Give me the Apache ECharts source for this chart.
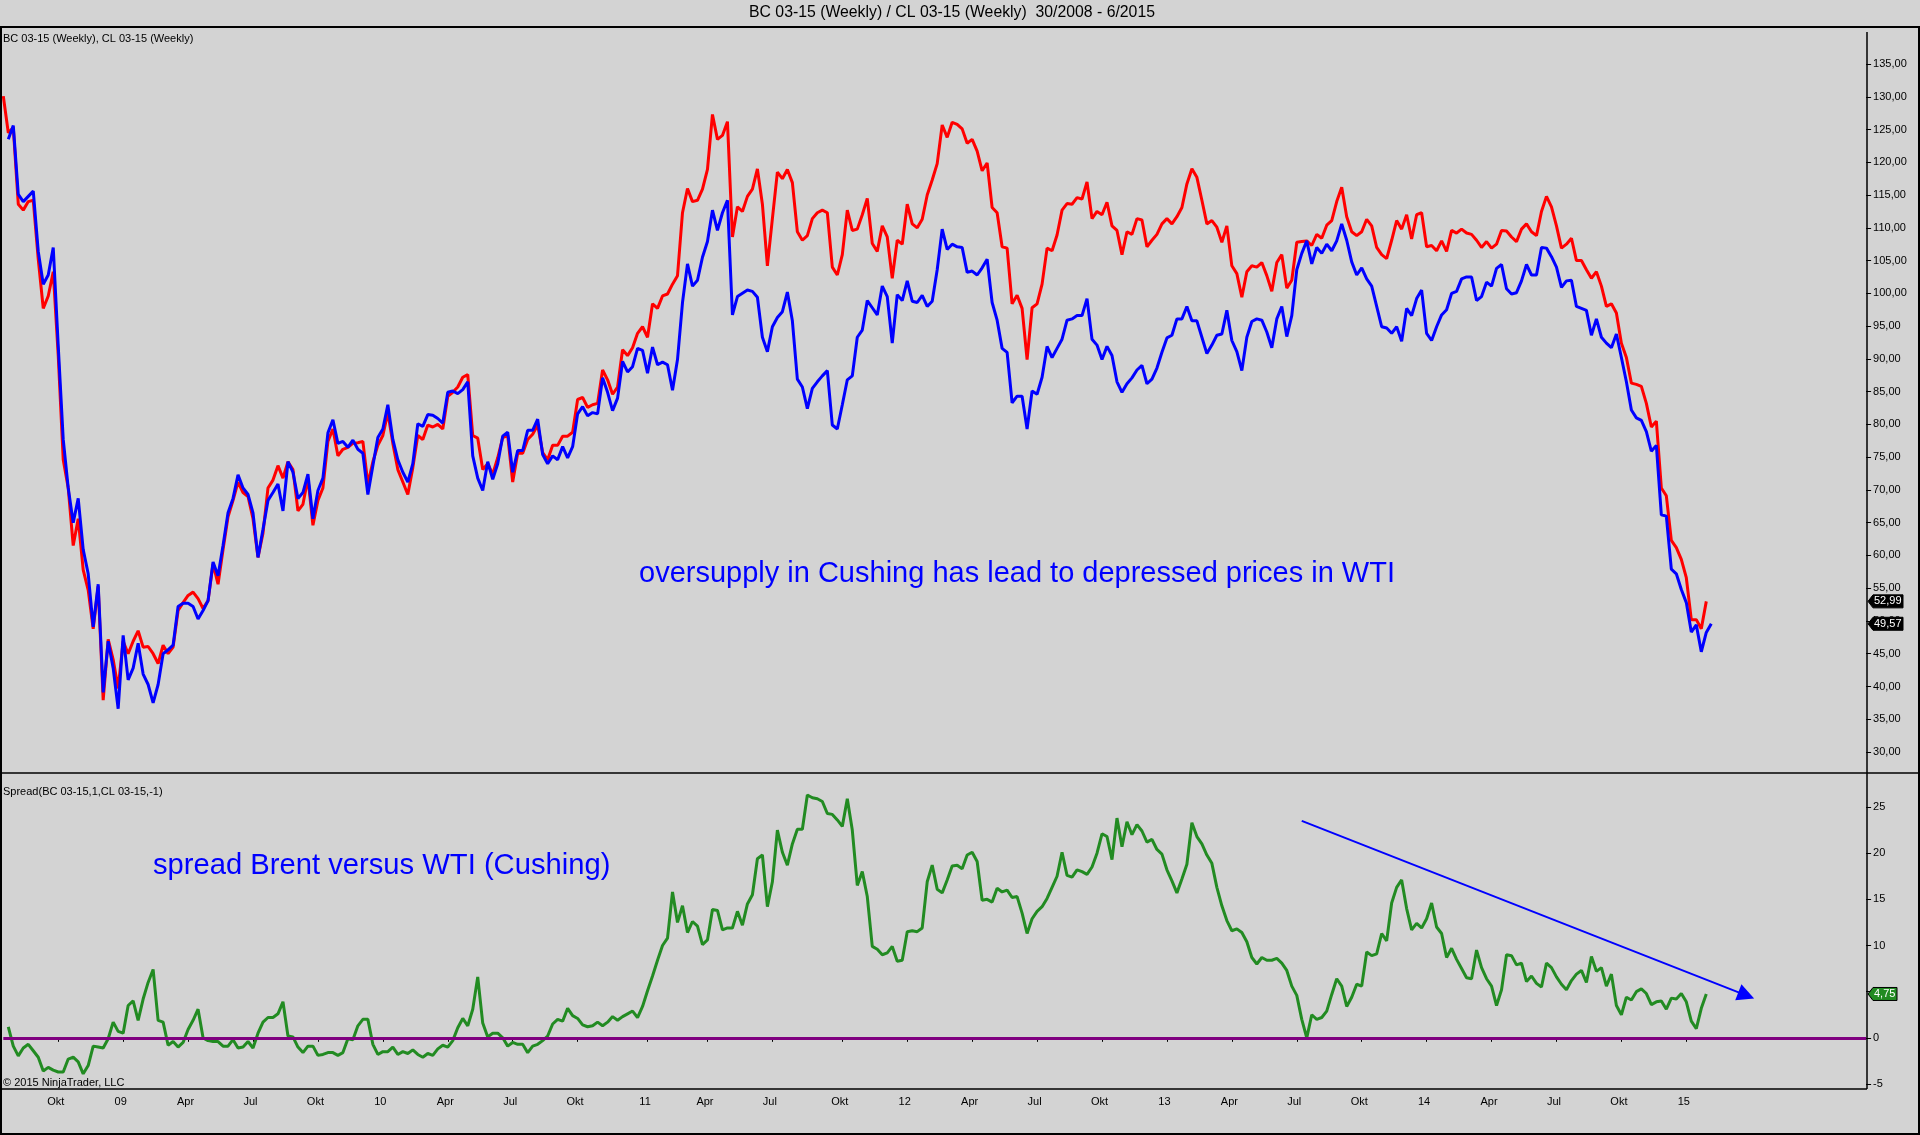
<!DOCTYPE html>
<html><head><meta charset="utf-8">
<script src="https://cdn.jsdelivr.net/npm/echarts@6/dist/echarts.min.js"></script>
<style>html,body{margin:0;padding:0;background:#d3d3d3;overflow:hidden}#c{width:1920px;height:1135px}</style>
</head><body><div id="c"></div>
<script>
// Weekly bars, first bar week 30/2008
const startDateUTC = Date.UTC(2008, 6, 18);
const totalWeeks = 374;
const monthLabels = ['', '', '', 'Apr', '', '', 'Jul', '', '', 'Okt', '', ''];

// BC 03-15 (Brent), index 0..341
const brent = [130.1,124.5,125.3,113.6,112.7,114.0,114.2,105.2,97.7,99.6,
103.3,90.5,74.6,70.3,61.5,65.6,57.8,54.7,48.8,55.3,
37.9,47.2,44.1,39.7,46.9,45.0,46.9,48.5,46.0,46.1,
45.0,43.5,46.3,45.0,46.0,51.6,52.8,53.9,54.4,53.4,
51.9,53.1,58.7,55.6,60.9,65.9,68.4,71.2,69.6,69.0,
65.6,59.7,63.4,70.3,71.5,73.7,71.8,74.3,73.1,66.8,
67.8,71.8,64.6,68.4,70.3,77.4,79.3,75.2,76.2,76.5,
77.1,77.2,77.4,70.9,74.3,76.8,78.3,81.8,77.1,73.1,
71.2,69.3,73.4,78.3,77.7,79.9,79.6,80.0,79.3,84.3,
84.9,85.7,87.2,87.6,78.3,77.9,73.1,74.0,72.4,74.9,
78.0,78.3,71.2,75.6,75.6,77.7,78.5,79.9,75.7,74.6,
76.8,76.8,78.2,78.2,78.8,83.8,84.1,82.6,83.0,83.2,
88.3,86.8,84.6,85.7,91.4,90.5,91.7,93.9,94.9,93.3,
98.4,97.7,99.6,99.9,101.4,102.7,112.3,116.0,114.0,114.2,
115.9,118.9,127.3,123.5,124.1,126.2,108.6,113.2,112.5,114.8,
115.9,119.0,113.6,104.2,111.4,118.5,117.5,118.9,116.9,109.4,
108.1,108.8,111.4,112.3,112.7,112.3,104.0,102.8,105.9,112.7,
109.6,109.8,112.0,114.5,107.6,106.4,110.3,108.6,102.3,108.1,
107.5,113.6,110.6,110.0,111.3,115.0,117.3,119.8,125.7,123.8,
126.1,125.8,125.1,122.9,123.5,121.7,118.7,119.9,113.1,112.3,
107.1,106.9,98.4,99.7,97.7,89.9,97.8,98.4,101.4,106.9,
106.5,108.9,112.7,113.7,113.6,114.6,114.4,117.0,111.4,112.5,
112.0,113.9,110.3,109.6,105.9,109.4,109.0,111.4,111.2,107.1,
108.1,109.0,110.6,111.4,110.6,111.7,113.1,116.7,119.0,117.7,
114.2,110.6,111.1,110.1,107.8,110.3,104.2,103.0,99.4,103.3,
104.2,104.0,104.7,102.7,100.3,104.7,105.9,100.8,102.0,107.8,
107.9,108.0,107.3,109.0,108.4,110.4,111.1,114.0,116.2,111.7,
109.4,108.8,109.4,111.3,110.3,107.0,105.9,105.3,108.1,111.1,
109.8,112.0,108.3,112.0,112.3,107.1,107.3,106.5,108.0,106.4,
109.6,109.2,109.8,109.2,109.0,108.1,107.0,107.9,106.9,107.5,
109.6,109.5,108.6,107.9,109.8,110.6,109.4,108.8,112.5,114.8,
113.2,110.3,106.9,107.5,108.4,105.0,105.0,103.6,102.3,103.3,
101.1,98.0,98.4,97.0,92.4,90.2,86.3,86.1,85.8,83.2,
79.6,80.5,70.3,69.1,62.3,61.2,59.4,56.6,50.2,50.2,
48.8,52.99];

// CL 03-15 (WTI), index 0..342 (no bar at index 0)
const wti = [null,123.5,125.6,115.1,114.0,114.8,115.6,106.4,101.4,102.8,
107.0,92.0,77.7,70.3,65.0,68.7,60.9,57.2,49.1,55.6,
39.1,46.9,42.8,36.6,47.8,41.0,42.8,46.6,41.9,40.3,
37.5,40.3,45.0,45.6,46.3,52.2,52.7,52.7,52.2,50.3,
51.6,53.1,59.0,56.9,61.5,66.5,68.7,72.3,70.3,69.3,
66.5,59.7,64.0,68.4,69.6,70.9,66.8,74.3,72.7,68.7,
69.6,72.4,65.6,69.9,71.8,78.7,80.7,77.1,77.4,76.5,
77.6,76.2,75.6,69.3,73.7,78.0,79.3,83.0,77.7,74.6,
72.7,71.2,74.0,80.1,79.7,81.5,81.4,80.9,80.2,84.9,
85.1,84.7,85.3,86.5,75.2,71.8,69.9,74.3,71.6,74.0,
78.2,78.8,72.7,76.0,76.0,79.1,79.1,80.8,75.4,74.0,
75.2,74.6,76.6,74.9,76.6,81.6,82.7,81.3,81.8,81.6,
87.1,84.9,82.1,84.0,89.6,88.0,88.8,91.6,91.3,87.8,
91.8,89.1,89.5,89.1,85.2,89.9,98.6,104.5,101.1,102.0,
105.5,107.9,112.7,109.6,112.3,114.2,96.7,99.5,100.0,100.5,
100.3,99.4,93.3,91.1,94.9,96.3,97.2,100.2,95.8,86.9,
85.7,82.4,85.5,86.5,87.4,88.2,79.9,79.3,83.0,86.8,
87.4,93.3,94.4,98.9,97.8,96.7,101.1,99.5,92.4,99.8,
98.9,101.9,98.8,98.6,99.7,98.0,98.8,103.6,109.8,106.7,
107.5,107.1,107.0,103.2,103.4,102.8,103.9,105.2,98.6,95.9,
91.6,91.0,83.3,84.3,84.3,79.3,85.1,84.6,87.2,91.9,
90.2,91.6,93.0,95.9,96.1,96.6,96.6,99.2,93.0,92.1,
89.9,91.9,90.5,86.5,84.9,86.2,87.1,88.3,89.0,86.2,
86.9,88.6,91.0,93.2,93.6,96.1,96.1,98.0,95.8,95.8,
93.3,90.8,92.1,93.6,93.8,97.4,92.8,91.1,88.2,93.3,
95.7,96.1,95.9,94.1,91.7,96.1,98.0,93.4,96.6,103.6,
106.1,108.0,104.5,107.0,106.1,107.5,106.5,108.0,110.6,108.1,
104.8,102.8,103.9,102.2,101.1,98.0,94.9,94.7,93.9,94.9,
92.7,97.7,96.6,99.2,100.5,93.9,92.8,94.9,96.7,97.5,
100.0,100.3,102.2,102.5,102.5,98.9,99.5,101.7,101.1,103.8,
104.4,100.7,99.9,100.1,101.9,104.4,102.8,102.8,107.0,106.9,
105.6,104.0,100.9,101.9,102.0,98.0,97.7,97.4,93.6,96.1,
93.3,92.4,91.7,93.8,90.2,86.5,82.2,81.0,80.6,78.9,
75.9,76.8,66.2,66.0,57.9,57.2,54.8,52.8,48.3,49.4,
45.3,48.24,49.57];

// Spread(BC 03-15,1,CL 03-15,-1), index 0..341
const spread = [null,1.2,-0.9,-1.95,-1.1,-0.7,-1.4,-2.1,-3.6,-3.2,
-3.5,-3.7,-3.7,-2.3,-2.1,-2.6,-3.9,-3.0,-0.9,-1.0,
-1.1,-0.1,1.7,0.7,0.5,3.5,4.0,1.9,4.2,6.0,
7.4,1.9,1.7,-0.8,-0.4,-1.0,-0.5,0.9,1.9,3.1,
0.0,-0.3,-0.4,-0.4,-0.9,-0.9,-0.2,-1.1,-1.0,-0.4,
-1.1,0.5,1.7,2.2,2.2,2.6,3.9,0.2,0.1,-1.0,
-1.6,-0.9,-0.9,-1.9,-1.8,-1.6,-1.6,-1.9,-1.6,-0.1,
-0.2,1.3,2.0,2.0,-0.7,-1.8,-1.5,-1.5,-1.0,-1.8,
-1.5,-1.7,-1.3,-1.8,-2.1,-1.7,-1.9,-1.2,-0.8,-1.0,
-0.3,1.1,2.1,1.3,3.1,6.6,1.6,0.1,0.5,0.5,
0.0,-0.9,-0.5,-0.7,-0.7,-1.6,-0.9,-0.7,-0.3,0.2,
1.5,2.0,1.8,3.2,2.4,2.1,1.4,1.2,1.3,1.7,
1.3,1.7,2.3,1.9,2.3,2.6,2.9,2.2,3.4,5.1,
6.7,8.4,10.0,10.8,15.8,12.5,14.3,11.4,12.6,12.1,
10.1,10.6,13.9,13.8,11.7,11.9,11.9,13.7,12.2,14.5,
15.5,19.4,19.8,14.2,16.9,22.5,20.1,18.7,21.0,22.6,
22.6,26.3,26.0,25.9,25.6,24.3,24.2,23.6,22.9,25.9,
22.5,16.5,18.0,15.3,9.9,9.6,9.0,9.2,9.9,8.3,
8.4,11.5,11.6,11.5,11.9,16.9,18.7,16.1,15.7,17.1,
18.6,18.7,18.3,19.8,20.1,19.1,14.9,15.0,14.7,16.2,
15.8,16.0,15.2,15.3,13.5,11.3,12.9,13.7,14.2,15.1,
16.3,17.5,20.1,17.6,17.4,18.2,18.0,17.7,18.5,20.0,
22.1,21.8,19.3,23.8,20.7,23.4,22.0,23.1,22.4,21.2,
21.5,20.4,19.9,18.2,17.0,15.7,17.2,18.8,23.3,21.8,
21.0,19.8,18.9,16.3,14.3,12.7,11.6,11.8,11.4,10.4,
8.7,8.0,8.7,8.4,8.4,8.6,8.1,7.3,5.6,4.6,
2.0,0.0,2.5,2.0,2.2,2.9,4.7,6.4,5.6,3.4,
4.4,5.8,5.6,9.3,8.9,9.1,11.3,10.5,14.6,16.3,
17.1,14.0,11.7,12.4,11.9,12.9,14.6,12.0,11.3,8.7,
9.7,8.5,7.5,6.5,6.4,9.5,7.6,6.4,5.6,3.5,
5.2,9.0,8.9,7.9,8.1,6.1,6.7,5.9,5.5,8.1,
7.6,6.6,5.8,5.2,6.2,6.9,7.3,6.0,8.8,7.2,
7.6,5.6,6.9,3.5,2.5,4.4,4.1,5.0,5.3,4.8,
3.6,3.9,4.0,3.1,4.3,4.2,4.8,3.9,1.8,1.0,
3.2,4.75];

// trend arrow drawn on the spread pane: [week index, spread value]
const trendStart = [260, 23.5];
const trendEnd = [349, 4.6];

const priceAxis = {min: 30, max: 135, step: 5};
const spreadAxis = {min: -5, max: 25, step: 5};

const FONT = "'Liberation Sans', Arial, sans-serif";
const cats = [];
for (let i = 0; i < totalWeeks; i++) {
  cats.push(new Date(startDateUTC + i * 7 * 86400000).toISOString().slice(0, 10));
}
const lastIdx = wti.length - 1;
function isQuarterStart(i) {
  if (i <= 0 || i > lastIdx) return false;
  const m = +cats[i].slice(5, 7) - 1, pm = +cats[i - 1].slice(5, 7) - 1;
  return m !== pm && m % 3 === 0;
}
function quarterLabel(v) {
  const m = +v.slice(5, 7) - 1;
  return m === 0 ? v.slice(2, 4) : monthLabels[m];
}
const fmtComma = (v, d) => v.toFixed(d).replace('.', ',');

const chart = echarts.init(document.getElementById('c'), null, {width: 1920, height: 1135});
const gridLeft = 3.3, gridWidth = 1862.8;

const option = {
  backgroundColor: '#d3d3d3',
  animation: false,
  grid: [
    {left: gridLeft, width: gridWidth, top: 64, height: 688},
    {left: gridLeft, width: gridWidth, top: 807, height: 277}
  ],
  xAxis: [
    {gridIndex: 0, type: 'category', data: cats, boundaryGap: false, show: false},
    {gridIndex: 1, type: 'category', data: cats, boundaryGap: false, position: 'bottom', offset: 5,
     axisLine: {show: false},
     axisTick: {show: true, length: 4, inside: false, interval: (i) => isQuarterStart(i), lineStyle: {color: '#000', width: 1}},
     axisLabel: {show: true, interval: (i) => isQuarterStart(i), formatter: quarterLabel, fontSize: 11, fontFamily: FONT, color: '#000', margin: 7, padding: [0, 5, 0, 0]},
     splitLine: {show: false}}
  ],
  yAxis: [
    {gridIndex: 0, type: 'value', position: 'right', min: priceAxis.min, max: priceAxis.max, interval: priceAxis.step,
     axisLine: {show: false}, splitLine: {show: false},
     axisTick: {show: true, length: 5, inside: false, lineStyle: {color: '#000'}},
     axisLabel: {fontSize: 11, fontFamily: FONT, color: '#000', margin: 7, formatter: (v) => fmtComma(v, 2)}},
    {gridIndex: 1, type: 'value', position: 'right', min: spreadAxis.min, max: spreadAxis.max, interval: spreadAxis.step,
     axisLine: {show: false}, splitLine: {show: false},
     axisTick: {show: true, length: 5, inside: false, lineStyle: {color: '#000'}},
     axisLabel: {fontSize: 11, fontFamily: FONT, color: '#000', margin: 7, formatter: (v) => String(v)}}
  ],
  series: [
    {name: 'BC 03-15', type: 'line', xAxisIndex: 0, yAxisIndex: 0, data: brent, showSymbol: false, clip: false,
     lineStyle: {color: '#ff0000', width: 3}, itemStyle: {color: '#ff0000'}, z: 2},
    {name: 'CL 03-15', type: 'line', xAxisIndex: 0, yAxisIndex: 0, data: wti, showSymbol: false, clip: false,
     lineStyle: {color: '#0000ff', width: 3}, itemStyle: {color: '#0000ff'}, z: 3},
    {name: 'Spread', type: 'line', xAxisIndex: 1, yAxisIndex: 1, data: spread, showSymbol: false, clip: false,
     lineStyle: {color: '#228b22', width: 3}, itemStyle: {color: '#228b22'}, z: 3,
     markLine: {
       silent: true, animation: false, symbol: ['none', 'none'], label: {show: false},
       data: [
         {yAxis: 0, lineStyle: {color: '#800080', width: 3, type: 'solid'}, label: {show: false}},
         [{coord: trendStart, symbol: 'none', lineStyle: {color: '#0000ff', width: 2, type: 'solid'}},
          {coord: trendEnd, symbol: 'triangle', symbolSize: 17}]
       ]
     }}
  ]
};
chart.setOption(option);

// value tags and frame
const lastBrent = brent[brent.length - 1];
const lastWti = wti[wti.length - 1];
const lastSpread = spread[spread.length - 1];
const yB = chart.convertToPixel({yAxisIndex: 0}, lastBrent);
const yW = chart.convertToPixel({yAxisIndex: 0}, lastWti);
const yS = chart.convertToPixel({yAxisIndex: 1}, lastSpread);
const AX = 1867;
function tag(y, w, fill, stroke, txt) {
  return [
    {type: 'polygon', z: 100, shape: {points: [[AX + 1, y], [AX + 6, y - 6.5], [AX + 6 + w, y - 6.5], [AX + 6 + w, y + 6.5], [AX + 6, y + 6.5]]},
     style: {fill: fill, stroke: stroke, lineWidth: 1}},
    {type: 'text', z: 101, x: AX + 7, y: y, style: {text: txt, fill: '#fff', font: '11px ' + FONT, textAlign: 'left', textVerticalAlign: 'middle'}}
  ];
}
const lineEl = (x1, y1, x2, y2, w) => ({type: 'line', z: 90, shape: {x1, y1, x2, y2}, style: {stroke: '#000', lineWidth: w}});
const graphics = [
  lineEl(0, 27, 1920, 27, 2),
  lineEl(1, 27, 1, 1135, 2),
  lineEl(1919, 27, 1919, 1135, 2),
  lineEl(0, 1134, 1920, 1134, 2),
  lineEl(0, 773, 1920, 773, 1.5),
  lineEl(0, 1089, AX, 1089, 1.5),
  lineEl(AX, 32, AX, 1089, 1.5),
  {type: 'text', x: 952, y: 13, style: {text: 'BC 03-15 (Weekly) / CL 03-15 (Weekly)  30/2008 - 6/2015', fill: '#000', font: '15.8px ' + FONT, textAlign: 'center', textVerticalAlign: 'middle'}},
  {type: 'text', x: 3, y: 39, style: {text: 'BC 03-15 (Weekly), CL 03-15 (Weekly)', fill: '#000', font: '11px ' + FONT, textAlign: 'left', textVerticalAlign: 'middle'}},
  {type: 'text', x: 3, y: 792, style: {text: 'Spread(BC 03-15,1,CL 03-15,-1)', fill: '#000', font: '11px ' + FONT, textAlign: 'left', textVerticalAlign: 'middle'}},
  {type: 'text', x: 3, y: 1083, style: {text: '\u00a9 2015 NinjaTrader, LLC', fill: '#000', font: '11px ' + FONT, textAlign: 'left', textVerticalAlign: 'middle'}},
  {type: 'text', x: 639, y: 574, style: {text: 'oversupply in Cushing has lead to depressed prices in WTI', fill: '#0000ff', font: '29px ' + FONT, textAlign: 'left', textVerticalAlign: 'middle'}},
  {type: 'text', x: 153, y: 866, style: {text: 'spread Brent versus WTI (Cushing)', fill: '#0000ff', font: '29.2px ' + FONT, textAlign: 'left', textVerticalAlign: 'middle'}}
].concat(
  tag(yB, 30, '#000', '#000', fmtComma(lastBrent, 2)),
  tag(yW, 30, '#000', '#000', fmtComma(lastWti, 2)),
  tag(yS, 24, '#228b22', '#000', fmtComma(lastSpread, 2))
);
chart.setOption({graphic: graphics});
</script>
</body></html>
